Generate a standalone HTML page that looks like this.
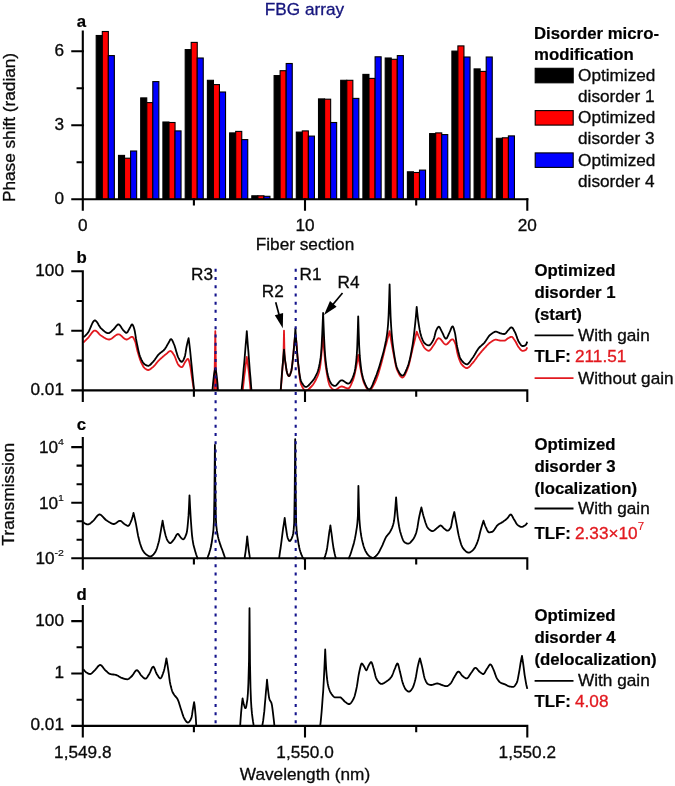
<!DOCTYPE html>
<html lang="en"><head><meta charset="utf-8"><title>FBG array</title>
<style>html,body{margin:0;padding:0;background:#fff}body{width:675px;height:786px;overflow:hidden}svg{display:block}text{font-family:"Liberation Sans", Arial, Helvetica, sans-serif;font-size:16px;fill:#0a0a0a;stroke:#0a0a0a;stroke-width:.3px}.b{font-weight:bold;fill:#000;stroke-width:.2px}.r{fill:#e2191f;stroke:#e2191f}.e{text-anchor:end}.m{text-anchor:middle}.ax{stroke:#000;stroke-width:2.1;fill:none;stroke-linecap:square}.cv{fill:none;stroke-width:1.8;stroke-linejoin:round;stroke-linecap:butt}.sup{font-size:9.8px;stroke-width:.15px}</style></head><body>
<svg width="675" height="786" viewBox="0 0 675 786">
<rect width="675" height="786" fill="#fff"/>
<g id="panel-a">
<rect x="96.2" y="35.5" width="6.05" height="163.8" fill="#000" stroke="#000" stroke-width="1.1"/>
<rect x="102.3" y="31.5" width="6.05" height="167.8" fill="#f00" stroke="#000" stroke-width="1.1"/>
<rect x="108.3" y="55.6" width="6.05" height="143.7" fill="#00f" stroke="#000" stroke-width="1.1"/>
<rect x="118.5" y="155.4" width="6.05" height="43.9" fill="#000" stroke="#000" stroke-width="1.1"/>
<rect x="124.5" y="158.2" width="6.05" height="41.1" fill="#f00" stroke="#000" stroke-width="1.1"/>
<rect x="130.6" y="151.0" width="6.05" height="48.3" fill="#00f" stroke="#000" stroke-width="1.1"/>
<rect x="140.7" y="97.9" width="6.05" height="101.4" fill="#000" stroke="#000" stroke-width="1.1"/>
<rect x="146.8" y="102.6" width="6.05" height="96.7" fill="#f00" stroke="#000" stroke-width="1.1"/>
<rect x="152.8" y="81.6" width="6.05" height="117.7" fill="#00f" stroke="#000" stroke-width="1.1"/>
<rect x="162.9" y="122.0" width="6.05" height="77.3" fill="#000" stroke="#000" stroke-width="1.1"/>
<rect x="169.0" y="122.5" width="6.05" height="76.8" fill="#f00" stroke="#000" stroke-width="1.1"/>
<rect x="175.0" y="130.9" width="6.05" height="68.4" fill="#00f" stroke="#000" stroke-width="1.1"/>
<rect x="185.2" y="49.6" width="6.05" height="149.7" fill="#000" stroke="#000" stroke-width="1.1"/>
<rect x="191.2" y="42.4" width="6.05" height="156.9" fill="#f00" stroke="#000" stroke-width="1.1"/>
<rect x="197.2" y="58.0" width="6.05" height="141.3" fill="#00f" stroke="#000" stroke-width="1.1"/>
<rect x="207.4" y="80.3" width="6.05" height="119.0" fill="#000" stroke="#000" stroke-width="1.1"/>
<rect x="213.4" y="84.6" width="6.05" height="114.7" fill="#f00" stroke="#000" stroke-width="1.1"/>
<rect x="219.5" y="92.0" width="6.05" height="107.3" fill="#00f" stroke="#000" stroke-width="1.1"/>
<rect x="229.6" y="132.9" width="6.05" height="66.4" fill="#000" stroke="#000" stroke-width="1.1"/>
<rect x="235.7" y="131.4" width="6.05" height="67.9" fill="#f00" stroke="#000" stroke-width="1.1"/>
<rect x="241.7" y="139.6" width="6.05" height="59.7" fill="#00f" stroke="#000" stroke-width="1.1"/>
<rect x="251.8" y="195.8" width="6.05" height="3.5" fill="#000" stroke="#000" stroke-width="1.1"/>
<rect x="257.9" y="195.8" width="6.05" height="3.5" fill="#f00" stroke="#000" stroke-width="1.1"/>
<rect x="263.9" y="196.3" width="6.05" height="3.0" fill="#00f" stroke="#000" stroke-width="1.1"/>
<rect x="274.1" y="75.6" width="6.05" height="123.7" fill="#000" stroke="#000" stroke-width="1.1"/>
<rect x="280.1" y="70.7" width="6.05" height="128.6" fill="#f00" stroke="#000" stroke-width="1.1"/>
<rect x="286.2" y="63.5" width="6.05" height="135.8" fill="#00f" stroke="#000" stroke-width="1.1"/>
<rect x="296.3" y="132.1" width="6.05" height="67.2" fill="#000" stroke="#000" stroke-width="1.1"/>
<rect x="302.3" y="130.9" width="6.05" height="68.4" fill="#f00" stroke="#000" stroke-width="1.1"/>
<rect x="308.4" y="136.1" width="6.05" height="63.2" fill="#00f" stroke="#000" stroke-width="1.1"/>
<rect x="318.5" y="98.9" width="6.05" height="100.4" fill="#000" stroke="#000" stroke-width="1.1"/>
<rect x="324.6" y="99.2" width="6.05" height="100.1" fill="#f00" stroke="#000" stroke-width="1.1"/>
<rect x="330.6" y="122.5" width="6.05" height="76.8" fill="#00f" stroke="#000" stroke-width="1.1"/>
<rect x="340.7" y="80.3" width="6.05" height="119.0" fill="#000" stroke="#000" stroke-width="1.1"/>
<rect x="346.8" y="80.3" width="6.05" height="119.0" fill="#f00" stroke="#000" stroke-width="1.1"/>
<rect x="352.8" y="98.4" width="6.05" height="100.9" fill="#00f" stroke="#000" stroke-width="1.1"/>
<rect x="362.9" y="74.4" width="6.05" height="124.9" fill="#000" stroke="#000" stroke-width="1.1"/>
<rect x="369.0" y="78.4" width="6.05" height="120.9" fill="#f00" stroke="#000" stroke-width="1.1"/>
<rect x="375.1" y="56.8" width="6.05" height="142.5" fill="#00f" stroke="#000" stroke-width="1.1"/>
<rect x="385.2" y="58.0" width="6.05" height="141.3" fill="#000" stroke="#000" stroke-width="1.1"/>
<rect x="391.2" y="59.3" width="6.05" height="140.0" fill="#f00" stroke="#000" stroke-width="1.1"/>
<rect x="397.3" y="55.6" width="6.05" height="143.7" fill="#00f" stroke="#000" stroke-width="1.1"/>
<rect x="407.4" y="171.8" width="6.05" height="27.5" fill="#000" stroke="#000" stroke-width="1.1"/>
<rect x="413.4" y="172.5" width="6.05" height="26.8" fill="#f00" stroke="#000" stroke-width="1.1"/>
<rect x="419.5" y="170.1" width="6.05" height="29.2" fill="#00f" stroke="#000" stroke-width="1.1"/>
<rect x="429.6" y="133.6" width="6.05" height="65.7" fill="#000" stroke="#000" stroke-width="1.1"/>
<rect x="435.7" y="132.9" width="6.05" height="66.4" fill="#f00" stroke="#000" stroke-width="1.1"/>
<rect x="441.7" y="134.6" width="6.05" height="64.7" fill="#00f" stroke="#000" stroke-width="1.1"/>
<rect x="451.9" y="51.1" width="6.05" height="148.2" fill="#000" stroke="#000" stroke-width="1.1"/>
<rect x="457.9" y="45.9" width="6.05" height="153.4" fill="#f00" stroke="#000" stroke-width="1.1"/>
<rect x="464.0" y="57.0" width="6.05" height="142.3" fill="#00f" stroke="#000" stroke-width="1.1"/>
<rect x="474.1" y="68.9" width="6.05" height="130.4" fill="#000" stroke="#000" stroke-width="1.1"/>
<rect x="480.1" y="71.4" width="6.05" height="127.9" fill="#f00" stroke="#000" stroke-width="1.1"/>
<rect x="486.2" y="57.0" width="6.05" height="142.3" fill="#00f" stroke="#000" stroke-width="1.1"/>
<rect x="496.3" y="138.3" width="6.05" height="61.0" fill="#000" stroke="#000" stroke-width="1.1"/>
<rect x="502.4" y="137.8" width="6.05" height="61.5" fill="#f00" stroke="#000" stroke-width="1.1"/>
<rect x="508.4" y="135.9" width="6.05" height="63.4" fill="#00f" stroke="#000" stroke-width="1.1"/>
<path class="ax" d="M82.8,31.5 V209.6 M72.3,199.3 H527.3"/>
<path class="ax" d="M72.3,51.2 H82.8 M77.6,88.2 H82.8 M72.3,125.3 H82.8 M77.6,162.3 H82.8 M193.9,199.3 V204.5 M305.0,199.3 V209.8 M416.2,199.3 V204.5 M527.3,199.3 V209.8 "/>
<text class="e" transform="translate(64.0 55.6) scale(1.075 1)">6</text>
<text class="e" transform="translate(64.0 129.7) scale(1.075 1)">3</text>
<text class="e" transform="translate(64.0 203.7) scale(1.075 1)">0</text>
<text class="m" transform="translate(82.8 231.0) scale(1.075 1)">0</text>
<text class="m" transform="translate(305.0 231.0) scale(1.075 1)">10</text>
<text class="m" transform="translate(527.3 231.0) scale(1.075 1)">20</text>
<text class="m" transform="translate(305.0 249.7) scale(1.075 1)">Fiber section</text>
<text class="m" transform="translate(14.8 127.5) rotate(-90) scale(1.075 1)">Phase shift (radian)</text>
<text class="b m" transform="translate(81.5 26.5) scale(1.050 1)">a</text>
<text class="m" style="fill:#15157d;stroke:#15157d" transform="translate(304.5 15.3) scale(1.075 1)">FBG array</text>
<text class="b" transform="translate(534.0 38.5) scale(1.050 1)">Disorder micro-</text>
<text class="b" transform="translate(534.0 59.7) scale(1.050 1)">modification</text>
<rect x="535.2" y="68.3" width="38" height="14.5" fill="#000" stroke="#000" stroke-width="1.1"/>
<text transform="translate(578.0 81.0) scale(1.075 1)">Optimized</text>
<text transform="translate(578.0 102.1) scale(1.075 1)">disorder 1</text>
<rect x="535.2" y="110.6" width="38" height="14.5" fill="#f00" stroke="#000" stroke-width="1.1"/>
<text transform="translate(578.0 123.3) scale(1.075 1)">Optimized</text>
<text transform="translate(578.0 144.4) scale(1.075 1)">disorder 3</text>
<rect x="535.2" y="152.9" width="38" height="14.5" fill="#00f" stroke="#000" stroke-width="1.1"/>
<text transform="translate(578.0 165.6) scale(1.075 1)">Optimized</text>
<text transform="translate(578.0 186.7) scale(1.075 1)">disorder 4</text>
</g>
<g id="panel-b">
<path class="cv" stroke="#e2191f" d="M83.3,342.7 L83.8,342.2 L84.3,341.7 L84.8,341.2 L85.3,340.7 L85.8,340.2 L86.3,339.7 L86.8,339.2 L87.3,338.7 L87.8,338.2 L88.3,337.6 L88.8,337.0 L89.3,336.3 L89.8,335.6 L90.3,334.9 L90.8,334.2 L91.3,333.5 L91.8,332.9 L92.3,332.3 L92.8,331.7 L93.3,331.3 L93.8,330.9 L94.3,330.7 L94.8,330.6 L95.3,330.6 L95.8,330.8 L96.3,331.1 L96.8,331.5 L97.3,331.9 L97.8,332.4 L98.3,333.0 L98.8,333.5 L99.3,334.1 L99.8,334.6 L100.3,335.0 L100.8,335.4 L101.3,335.7 L101.8,336.1 L102.3,336.4 L102.8,336.7 L103.3,337.1 L103.8,337.4 L104.3,337.7 L104.8,338.0 L105.3,338.3 L105.8,338.6 L106.3,338.8 L106.8,339.0 L107.3,339.2 L107.8,339.3 L108.3,339.4 L108.8,339.5 L109.3,339.5 L109.8,339.4 L110.3,339.2 L110.8,339.0 L111.4,338.7 L111.9,338.4 L112.4,338.0 L112.9,337.6 L113.4,337.2 L113.9,336.8 L114.4,336.4 L114.9,336.0 L115.4,335.6 L115.9,335.3 L116.4,334.9 L116.9,334.7 L117.4,334.5 L117.9,334.4 L118.4,334.3 L118.9,334.3 L119.4,334.5 L119.9,334.7 L120.4,335.1 L120.9,335.5 L121.4,335.9 L121.9,336.3 L122.4,336.8 L122.9,337.3 L123.4,337.8 L123.9,338.2 L124.4,338.6 L124.9,339.0 L125.4,339.2 L125.9,339.4 L126.4,339.5 L126.9,339.5 L127.4,339.3 L127.9,339.1 L128.4,338.8 L128.9,338.5 L129.4,338.1 L129.9,337.8 L130.4,337.4 L130.9,337.2 L131.4,336.9 L131.9,336.8 L132.4,336.8 L132.9,337.2 L133.4,337.8 L133.9,338.7 L134.4,339.8 L134.9,340.9 L135.4,342.3 L135.9,344.3 L136.4,346.5 L136.9,348.8 L137.4,350.9 L137.9,352.6 L138.4,354.3 L138.9,356.0 L139.4,357.6 L139.9,359.1 L140.4,360.5 L140.9,361.8 L141.4,362.9 L141.9,363.9 L142.4,364.9 L142.9,365.8 L143.4,366.7 L143.9,367.4 L144.4,367.9 L144.9,368.4 L145.4,368.7 L145.9,369.1 L146.4,369.4 L146.9,369.7 L147.4,369.9 L147.9,370.0 L148.4,370.0 L148.9,369.9 L149.4,369.7 L149.9,369.4 L150.4,369.1 L150.9,368.7 L151.4,368.3 L151.9,367.9 L152.4,367.5 L152.9,367.1 L153.4,366.7 L153.9,366.2 L154.4,365.6 L154.9,365.1 L155.4,364.5 L155.9,363.9 L156.4,363.2 L156.9,362.6 L157.4,362.0 L157.9,361.4 L158.4,360.9 L158.9,360.4 L159.4,359.9 L159.9,359.4 L160.4,358.9 L160.9,358.5 L161.4,358.0 L161.9,357.6 L162.4,357.1 L162.9,356.7 L163.4,356.3 L163.9,355.9 L164.4,355.4 L164.9,355.0 L165.4,354.6 L165.9,354.2 L166.5,353.8 L167.0,353.4 L167.5,352.9 L168.0,352.4 L168.5,351.9 L169.0,351.6 L169.5,351.3 L170.0,351.1 L170.5,351.0 L171.0,351.2 L171.5,351.5 L172.0,352.1 L172.5,352.7 L173.0,353.5 L173.5,354.3 L174.0,355.0 L174.5,355.9 L175.0,357.0 L175.5,358.3 L176.0,359.6 L176.5,361.0 L177.0,362.2 L177.5,363.4 L178.0,364.3 L178.5,365.0 L179.0,365.5 L179.5,366.0 L180.0,366.5 L180.5,366.8 L181.0,367.1 L181.5,367.2 L182.0,367.1 L182.5,366.7 L183.0,366.0 L183.5,365.1 L184.0,364.1 L184.5,363.1 L185.0,362.2 L185.5,361.4 L186.0,360.8 L186.5,360.1 L187.0,359.5 L187.5,359.0 L188.0,358.8 L188.5,359.4 L189.0,360.8 L189.5,362.8 L190.0,365.0 L190.5,367.6 L191.0,370.9 L191.5,374.5 L192.0,378.0 L192.5,381.2 L193.0,384.5 L193.5,387.7 L194.0,391.0 M214.3,391.0 L215.3,331.1 L216.3,391.0 M242.7,391.0 L243.2,386.1 L243.7,381.3 L244.2,376.8 L244.8,372.4 L245.3,368.3 L245.8,364.3 L246.3,360.5 L246.8,356.9 L247.3,360.4 L247.9,364.4 L248.4,368.8 L249.0,373.5 L249.5,378.8 L250.1,384.7 L250.6,391.0 M280.8,391.0 L281.3,384.0 L281.9,376.8 L282.4,369.4 L282.9,362.9 L283.5,355.0 L284.0,330.6 L284.5,354.2 L285.0,360.4 L285.6,364.2 L286.1,367.8 L286.6,370.9 L287.1,373.0 L287.6,374.3 L288.1,375.4 L288.7,376.1 L289.2,376.2 L289.7,375.6 L290.2,374.5 L290.7,373.0 L291.3,371.2 L291.8,368.3 L292.3,364.5 L292.8,360.0 L293.3,355.2 L293.8,348.6 L294.4,342.1 L294.9,338.2 L295.4,336.0 L295.9,338.3 L296.4,341.8 L296.9,347.7 L297.4,355.0 L297.9,361.5 L298.4,366.2 L298.9,370.8 L299.4,375.1 L299.9,378.8 L300.4,381.8 L300.9,384.0 L301.4,385.2 L301.9,386.2 L302.4,387.2 L302.9,388.0 L303.4,388.8 L303.9,389.4 L304.4,389.9 L304.9,390.2 L305.4,390.4 L305.9,390.5 L306.4,390.4 L306.9,390.3 L307.4,390.0 L307.9,389.7 L308.4,389.4 L308.9,388.9 L309.4,388.5 L309.9,388.0 L310.4,387.5 L310.9,387.0 L311.4,386.5 L311.9,386.0 L312.4,385.4 L312.9,384.8 L313.4,384.1 L313.9,383.3 L314.4,382.5 L314.9,381.6 L315.4,380.7 L315.9,379.8 L316.4,378.7 L316.9,377.7 L317.4,376.6 L317.9,375.4 L318.4,374.0 L318.9,372.4 L319.4,370.5 L319.9,368.2 L320.4,364.9 L320.9,360.4 L321.4,354.8 L321.9,348.5 L322.4,341.5 L322.9,334.0 L323.4,340.8 L323.9,347.3 L324.4,353.4 L324.9,358.9 L325.4,363.6 L325.9,367.5 L326.4,370.7 L326.9,373.8 L327.4,376.7 L327.9,379.3 L328.4,381.6 L329.0,383.6 L329.5,385.1 L330.0,386.2 L330.5,386.9 L331.0,387.5 L331.5,388.1 L332.0,388.6 L332.5,389.0 L333.0,389.4 L333.5,389.7 L334.0,389.9 L334.5,390.0 L335.0,390.0 L335.5,389.9 L336.0,389.7 L336.5,389.4 L337.0,389.1 L337.5,388.8 L338.0,388.4 L338.5,388.0 L339.0,387.6 L339.5,387.3 L340.0,387.0 L340.5,386.7 L341.1,386.6 L341.6,386.5 L342.1,386.5 L342.6,386.6 L343.1,386.8 L343.6,386.9 L344.1,387.1 L344.6,387.4 L345.1,387.6 L345.6,387.8 L346.1,388.0 L346.6,388.2 L347.1,388.4 L347.6,388.5 L348.1,388.5 L348.6,388.4 L349.1,388.0 L349.6,387.4 L350.1,386.7 L350.6,385.7 L351.1,384.6 L351.6,383.4 L352.1,382.2 L352.7,380.9 L353.2,379.6 L353.7,378.0 L354.2,376.2 L354.7,374.1 L355.2,371.9 L355.7,369.5 L356.2,367.1 L356.7,364.4 L357.2,361.5 L357.7,358.3 L358.2,355.0 L358.7,358.3 L359.2,361.4 L359.7,364.4 L360.2,367.1 L360.7,369.7 L361.2,372.2 L361.7,374.7 L362.3,377.0 L362.8,379.1 L363.3,381.0 L363.8,382.5 L364.3,383.6 L364.8,384.7 L365.3,385.7 L365.8,386.7 L366.3,387.6 L366.8,388.4 L367.3,389.1 L367.8,389.6 L368.3,390.0 L368.8,390.2 L369.3,390.3 L369.8,390.1 L370.4,389.8 L370.9,389.4 L371.4,388.8 L371.9,388.1 L372.4,387.3 L372.9,386.4 L373.4,385.4 L373.9,384.5 L374.4,383.5 L374.9,382.5 L375.4,381.5 L375.9,380.4 L376.4,379.2 L376.9,377.8 L377.4,376.4 L378.0,374.8 L378.5,373.2 L379.0,371.5 L379.5,369.8 L380.0,368.0 L380.5,366.3 L381.0,364.5 L381.5,362.7 L382.0,360.8 L382.5,358.8 L383.0,356.8 L383.5,354.7 L384.0,352.6 L384.5,350.5 L385.0,348.4 L385.5,346.4 L386.1,344.4 L386.6,342.5 L387.1,340.5 L387.6,338.6 L388.1,336.7 L388.6,334.8 L389.1,333.0 L389.6,331.1 L390.1,334.3 L390.6,337.4 L391.1,340.4 L391.6,343.3 L392.1,346.1 L392.6,348.9 L393.1,351.5 L393.6,354.1 L394.1,356.8 L394.6,359.4 L395.1,362.1 L395.6,364.5 L396.1,366.7 L396.6,368.6 L397.1,370.0 L397.6,371.1 L398.1,372.2 L398.6,373.2 L399.1,374.2 L399.6,375.0 L400.1,375.8 L400.6,376.4 L401.1,376.9 L401.6,377.3 L402.1,377.5 L402.6,377.5 L403.1,377.2 L403.7,376.8 L404.2,376.1 L404.7,375.3 L405.2,374.3 L405.7,373.2 L406.2,372.1 L406.7,370.9 L407.2,369.6 L407.7,368.4 L408.2,367.0 L408.7,365.4 L409.2,363.6 L409.7,361.5 L410.2,359.4 L410.7,357.2 L411.2,354.9 L411.7,352.7 L412.2,350.5 L412.7,348.4 L413.2,346.4 L413.7,344.3 L414.2,342.2 L414.7,340.2 L415.2,338.1 L415.7,336.0 L416.2,333.8 L416.7,331.7 L417.2,332.9 L417.7,334.2 L418.2,335.3 L418.7,336.5 L419.2,337.6 L419.7,338.7 L420.2,339.8 L420.7,340.8 L421.2,341.8 L421.7,342.8 L422.2,343.8 L422.7,344.9 L423.2,345.8 L423.7,346.7 L424.2,347.5 L424.7,348.1 L425.2,348.6 L425.7,349.1 L426.2,349.5 L426.7,349.9 L427.2,350.3 L427.7,350.6 L428.2,350.7 L428.7,350.8 L429.2,350.7 L429.7,350.4 L430.2,349.9 L430.7,349.4 L431.2,348.7 L431.7,348.0 L432.2,347.2 L432.7,346.5 L433.2,345.8 L433.7,345.1 L434.2,344.4 L434.7,343.5 L435.2,342.7 L435.7,341.8 L436.2,340.9 L436.7,340.0 L437.2,339.3 L437.7,338.8 L438.2,338.4 L438.7,338.2 L439.2,338.3 L439.7,338.5 L440.2,338.9 L440.7,339.3 L441.2,339.9 L441.7,340.5 L442.2,341.2 L442.7,341.8 L443.2,342.5 L443.7,343.1 L444.2,343.6 L444.7,344.0 L445.2,344.3 L445.7,344.5 L446.2,344.5 L446.7,344.3 L447.2,344.0 L447.7,343.5 L448.2,343.0 L448.7,342.5 L449.2,341.9 L449.7,341.3 L450.2,340.7 L450.7,340.2 L451.2,339.8 L451.7,339.5 L452.2,339.3 L452.7,339.3 L453.2,339.7 L453.7,340.3 L454.2,341.2 L454.7,342.2 L455.2,343.4 L455.7,344.8 L456.2,347.1 L456.7,349.7 L457.2,352.2 L457.7,354.4 L458.2,356.1 L458.7,357.6 L459.2,359.1 L459.7,360.5 L460.2,361.7 L460.7,362.8 L461.2,363.7 L461.7,364.4 L462.2,365.0 L462.7,365.5 L463.2,366.0 L463.7,366.5 L464.2,366.9 L464.7,367.3 L465.2,367.6 L465.7,367.9 L466.2,368.0 L466.7,368.1 L467.2,368.1 L467.7,367.9 L468.2,367.6 L468.7,367.3 L469.2,366.8 L469.7,366.3 L470.2,365.8 L470.7,365.2 L471.2,364.6 L471.7,363.9 L472.3,363.3 L472.8,362.8 L473.3,362.2 L473.8,361.6 L474.3,361.0 L474.8,360.3 L475.3,359.6 L475.8,358.9 L476.3,358.2 L476.8,357.5 L477.3,356.8 L477.8,356.1 L478.3,355.4 L478.8,354.8 L479.3,354.2 L479.8,353.6 L480.3,353.0 L480.8,352.4 L481.3,351.8 L481.8,351.2 L482.3,350.7 L482.8,350.1 L483.3,349.5 L483.8,349.0 L484.3,348.4 L484.8,347.9 L485.3,347.4 L485.8,346.8 L486.3,346.2 L486.8,345.7 L487.3,345.2 L487.8,344.6 L488.3,344.1 L488.8,343.7 L489.3,343.2 L489.8,342.8 L490.3,342.5 L490.8,342.1 L491.3,341.8 L491.8,341.4 L492.3,341.1 L492.8,340.8 L493.3,340.5 L493.8,340.2 L494.3,340.0 L494.8,339.8 L495.3,339.7 L495.8,339.7 L496.3,339.7 L496.8,339.8 L497.3,339.9 L497.8,340.0 L498.3,340.2 L498.8,340.3 L499.3,340.4 L499.8,340.5 L500.3,340.6 L500.8,340.6 L501.3,340.6 L501.8,340.6 L502.3,340.6 L502.8,340.6 L503.3,340.6 L503.8,340.6 L504.3,340.6 L504.8,340.6 L505.3,340.4 L505.8,340.0 L506.3,339.7 L506.8,339.2 L507.3,338.8 L507.8,338.4 L508.3,338.2 L508.8,337.9 L509.3,337.6 L509.8,337.3 L510.3,337.1 L510.8,336.9 L511.3,336.8 L511.8,336.8 L512.3,337.1 L512.8,337.6 L513.3,338.2 L513.8,339.0 L514.3,339.7 L514.8,340.4 L515.3,341.2 L515.8,342.0 L516.3,343.0 L516.8,344.0 L517.3,345.0 L517.8,345.9 L518.3,346.7 L518.8,347.4 L519.3,348.0 L519.8,348.7 L520.3,349.3 L520.8,349.8 L521.3,350.3 L521.8,350.6 L522.3,350.8 L522.8,350.8 L523.3,350.8 L523.8,350.7 L524.3,350.6 L524.8,350.4 L525.3,350.2 L525.8,349.9 L526.3,349.2 L526.8,348.3 L527.3,347.3"/>
<path class="cv" stroke="#000" d="M83.3,337.3 L83.8,336.9 L84.3,336.5 L84.8,336.1 L85.3,335.7 L85.8,335.2 L86.3,334.6 L86.8,334.1 L87.3,333.5 L87.8,332.9 L88.3,332.2 L88.8,331.3 L89.3,330.3 L89.8,329.2 L90.3,328.0 L90.8,326.8 L91.3,325.6 L91.8,324.5 L92.3,323.4 L92.8,322.4 L93.3,321.6 L93.8,321.0 L94.3,320.6 L94.8,320.4 L95.3,320.5 L95.8,320.8 L96.3,321.3 L96.8,321.9 L97.3,322.6 L97.8,323.4 L98.3,324.3 L98.8,325.2 L99.3,326.0 L99.8,326.8 L100.3,327.6 L100.8,328.2 L101.4,328.6 L101.9,329.1 L102.4,329.6 L102.9,330.0 L103.4,330.5 L103.9,330.9 L104.4,331.4 L104.9,331.8 L105.4,332.1 L105.9,332.4 L106.4,332.7 L106.9,332.9 L107.4,333.1 L107.9,333.2 L108.4,333.2 L108.9,333.1 L109.4,332.9 L109.9,332.6 L110.4,332.3 L110.9,331.8 L111.4,331.4 L111.9,330.9 L112.4,330.4 L112.9,329.9 L113.4,329.5 L113.9,329.0 L114.4,328.5 L114.9,327.8 L115.4,327.2 L115.9,326.5 L116.4,325.8 L116.9,325.3 L117.4,324.8 L117.9,324.5 L118.4,324.4 L118.9,324.5 L119.4,324.9 L119.9,325.4 L120.4,326.0 L120.9,326.8 L121.4,327.6 L121.9,328.4 L122.4,329.1 L122.9,329.8 L123.4,330.3 L123.9,330.9 L124.4,331.4 L124.9,332.0 L125.4,332.4 L125.9,332.8 L126.4,332.9 L126.9,332.7 L127.4,332.2 L127.9,331.4 L128.4,330.5 L128.9,329.6 L129.4,328.7 L129.9,327.8 L130.4,326.9 L130.9,325.8 L131.4,325.0 L131.9,324.5 L132.4,324.5 L132.9,325.2 L133.4,326.3 L133.9,327.8 L134.4,329.5 L134.9,331.8 L135.4,334.9 L135.9,338.2 L136.5,341.4 L137.0,343.9 L137.5,346.3 L138.0,348.7 L138.5,350.9 L139.0,352.9 L139.5,354.8 L140.0,356.3 L140.5,357.5 L141.0,358.7 L141.5,359.8 L142.0,360.8 L142.5,361.7 L143.0,362.5 L143.5,363.2 L144.0,363.8 L144.5,364.2 L145.0,364.6 L145.5,364.9 L146.0,365.1 L146.5,365.4 L147.0,365.6 L147.5,365.7 L148.0,365.8 L148.5,365.8 L149.0,365.6 L149.5,365.3 L150.0,365.0 L150.5,364.5 L151.0,364.0 L151.5,363.5 L152.0,362.9 L152.5,362.4 L153.0,361.9 L153.5,361.3 L154.0,360.7 L154.5,360.1 L155.0,359.4 L155.5,358.6 L156.0,357.9 L156.5,357.2 L157.0,356.5 L157.5,355.8 L158.0,355.2 L158.5,354.6 L159.0,354.1 L159.5,353.6 L160.0,353.2 L160.5,352.8 L161.0,352.4 L161.5,352.1 L162.0,351.7 L162.5,351.3 L163.0,350.9 L163.5,350.5 L164.0,350.0 L164.5,349.4 L165.0,348.8 L165.5,348.0 L166.0,347.2 L166.5,346.4 L167.0,345.5 L167.5,344.6 L168.0,343.8 L168.5,342.9 L169.0,342.1 L169.5,341.1 L170.0,340.1 L170.5,339.3 L171.1,339.1 L171.6,339.4 L172.1,340.1 L172.6,341.0 L173.1,342.2 L173.6,343.4 L174.1,344.5 L174.6,345.8 L175.1,347.4 L175.6,349.1 L176.1,350.9 L176.6,352.6 L177.1,354.3 L177.6,355.9 L178.1,357.1 L178.6,358.1 L179.1,359.0 L179.6,359.9 L180.1,360.7 L180.6,361.3 L181.1,361.7 L181.6,361.9 L182.1,361.7 L182.6,361.3 L183.1,360.5 L183.6,359.6 L184.1,358.4 L184.6,357.2 L185.1,355.4 L185.6,352.7 L186.1,349.4 L186.6,346.5 L187.1,344.2 L187.6,342.0 L188.1,340.0 L188.6,338.2 L189.1,341.9 L189.6,346.0 L190.1,350.4 L190.6,355.3 L191.1,360.7 L191.7,366.3 L192.2,371.6 L192.7,376.7 L193.2,381.6 L193.7,386.4 L194.2,391.0 M212.4,391.0 L213.0,384.1 L213.6,378.4 L214.1,374.1 L214.7,370.7 L215.3,368.3 L215.8,370.3 L216.4,373.5 L216.9,377.6 L217.5,383.6 L218.0,391.0 M241.5,391.0 L242.0,385.8 L242.6,380.5 L243.1,374.9 L243.6,369.2 L244.2,363.3 L244.7,357.2 L245.2,351.0 L245.7,344.5 L246.3,337.9 L246.8,331.1 L247.3,338.1 L247.8,344.9 L248.4,351.7 L248.9,358.5 L249.4,365.1 L249.9,371.7 L250.5,378.2 L251.0,384.7 L251.5,391.0 M280.6,391.0 L281.2,383.5 L281.7,376.2 L282.3,369.2 L282.9,362.4 L283.4,355.9 L284.0,349.6 L284.5,354.9 L285.0,359.6 L285.6,363.7 L286.1,367.3 L286.6,370.5 L287.1,372.7 L287.6,374.1 L288.1,375.2 L288.7,375.9 L289.2,376.0 L289.7,375.4 L290.2,374.3 L290.7,372.8 L291.3,371.0 L291.8,368.1 L292.3,364.1 L292.8,359.6 L293.3,354.8 L293.8,349.3 L294.4,343.0 L294.9,336.0 L295.4,328.4 L295.9,336.1 L296.4,343.3 L296.9,349.9 L297.4,355.8 L297.9,360.8 L298.4,365.1 L298.9,369.2 L299.4,373.0 L299.9,376.3 L300.4,379.0 L300.9,380.8 L301.4,381.9 L301.9,382.9 L302.5,383.8 L303.0,384.6 L303.5,385.3 L304.0,385.9 L304.5,386.4 L305.0,386.7 L305.5,386.9 L306.0,386.9 L306.5,386.8 L307.0,386.6 L307.5,386.3 L308.0,385.9 L308.5,385.5 L309.0,385.0 L309.5,384.4 L310.0,383.9 L310.5,383.3 L311.0,382.7 L311.5,382.2 L312.0,381.6 L312.5,381.0 L313.0,380.4 L313.5,379.7 L314.0,379.0 L314.5,378.2 L315.0,377.3 L315.5,376.4 L316.0,375.4 L316.6,374.2 L317.1,373.0 L317.6,371.7 L318.1,370.2 L318.6,368.4 L319.1,366.3 L319.6,363.9 L320.1,361.1 L320.6,357.9 L321.1,353.6 L321.6,346.3 L322.1,336.5 L322.6,325.1 L323.1,313.0 L323.6,325.9 L324.1,337.8 L324.6,347.8 L325.1,355.2 L325.6,360.4 L326.1,364.7 L326.6,368.5 L327.1,371.6 L327.6,374.1 L328.1,376.0 L328.6,377.7 L329.1,379.2 L329.6,380.5 L330.1,381.7 L330.6,382.8 L331.1,383.6 L331.6,384.3 L332.1,384.7 L332.6,385.1 L333.1,385.4 L333.6,385.6 L334.1,385.8 L334.6,385.9 L335.1,385.9 L335.6,385.7 L336.1,385.4 L336.6,385.0 L337.1,384.4 L337.6,383.9 L338.1,383.2 L338.6,382.6 L339.1,382.0 L339.6,381.4 L340.1,381.0 L340.6,380.6 L341.2,380.4 L341.7,380.3 L342.2,380.4 L342.7,380.5 L343.2,380.8 L343.7,381.1 L344.2,381.4 L344.7,381.8 L345.2,382.1 L345.7,382.5 L346.2,382.9 L346.7,383.1 L347.2,383.4 L347.7,383.5 L348.2,383.6 L348.7,383.5 L349.2,383.3 L349.7,382.9 L350.2,382.3 L350.7,381.6 L351.2,380.7 L351.7,379.8 L352.2,378.7 L352.7,377.5 L353.2,376.2 L353.7,374.9 L354.2,373.4 L354.7,371.5 L355.2,368.9 L355.7,365.5 L356.2,361.3 L356.7,356.2 L357.2,347.8 L357.7,333.5 L358.2,316.4 L358.7,332.3 L359.2,346.2 L359.7,355.2 L360.2,360.6 L360.7,365.2 L361.2,369.1 L361.7,372.4 L362.3,375.1 L362.8,377.3 L363.3,379.1 L363.8,380.5 L364.3,381.9 L364.8,383.2 L365.3,384.4 L365.8,385.4 L366.3,386.4 L366.8,387.3 L367.3,388.0 L367.8,388.6 L368.3,389.0 L368.8,389.2 L369.3,389.3 L369.8,389.1 L370.4,388.6 L370.9,388.0 L371.4,387.2 L371.9,386.2 L372.4,385.1 L372.9,383.9 L373.4,382.6 L373.9,381.3 L374.4,380.1 L374.9,378.8 L375.4,377.6 L375.9,376.4 L376.4,375.1 L376.9,373.7 L377.4,372.2 L378.0,370.7 L378.5,369.1 L379.0,367.5 L379.5,365.9 L380.0,364.2 L380.5,362.5 L381.0,360.7 L381.5,359.0 L382.0,357.3 L382.5,355.6 L383.0,353.8 L383.5,351.9 L384.0,349.9 L384.5,347.8 L385.0,345.5 L385.5,343.0 L386.1,340.2 L386.6,337.2 L387.1,333.8 L387.6,329.5 L388.1,324.0 L388.6,315.4 L389.1,301.3 L389.6,284.4 L390.1,301.8 L390.6,316.4 L391.1,325.8 L391.6,332.7 L392.1,338.4 L392.6,343.1 L393.1,347.1 L393.6,350.7 L394.1,354.0 L394.6,357.2 L395.1,360.0 L395.6,362.6 L396.1,364.9 L396.6,366.7 L397.1,368.1 L397.6,369.3 L398.1,370.3 L398.6,371.4 L399.1,372.3 L399.6,373.2 L400.1,373.9 L400.6,374.5 L401.1,375.0 L401.6,375.4 L402.1,375.6 L402.6,375.6 L403.1,375.3 L403.7,374.9 L404.2,374.2 L404.7,373.4 L405.2,372.4 L405.7,371.4 L406.2,370.2 L406.7,369.0 L407.2,367.7 L407.7,366.5 L408.2,365.1 L408.7,363.5 L409.2,361.7 L409.7,359.8 L410.2,357.6 L410.7,355.2 L411.2,352.7 L411.7,350.0 L412.2,347.2 L412.7,344.3 L413.2,340.9 L413.7,337.0 L414.2,332.8 L414.7,328.2 L415.2,323.5 L415.7,318.5 L416.2,312.9 L416.7,306.9 L417.2,312.0 L417.7,316.7 L418.2,320.6 L418.7,324.0 L419.2,327.1 L419.7,330.0 L420.2,332.5 L420.7,334.6 L421.2,336.2 L421.7,337.6 L422.2,338.9 L422.7,340.1 L423.2,341.1 L423.7,342.0 L424.2,342.8 L424.7,343.3 L425.2,343.7 L425.7,344.1 L426.2,344.5 L426.7,344.8 L427.2,345.0 L427.7,345.2 L428.2,345.4 L428.7,345.4 L429.2,345.3 L429.7,345.1 L430.2,344.7 L430.7,344.1 L431.2,343.5 L431.7,342.8 L432.2,342.0 L432.7,341.1 L433.2,340.2 L433.7,339.2 L434.2,337.7 L434.7,335.8 L435.2,333.7 L435.7,331.8 L436.2,330.4 L436.7,329.4 L437.2,328.4 L437.7,327.6 L438.2,327.0 L438.7,326.7 L439.2,326.9 L439.7,327.4 L440.2,328.3 L440.7,329.3 L441.2,330.4 L441.7,331.4 L442.2,332.3 L442.7,333.3 L443.2,334.4 L443.7,335.6 L444.2,336.7 L444.7,337.6 L445.2,338.3 L445.7,338.7 L446.2,338.6 L446.7,338.2 L447.2,337.4 L447.7,336.4 L448.2,335.3 L448.7,334.2 L449.2,333.1 L449.7,332.0 L450.2,330.9 L450.7,329.6 L451.2,328.3 L451.7,327.2 L452.2,326.5 L452.7,326.3 L453.2,327.0 L453.7,328.3 L454.2,330.0 L454.7,331.9 L455.2,334.1 L455.7,337.3 L456.2,340.8 L456.7,344.2 L457.2,347.0 L457.7,349.2 L458.2,351.3 L458.7,353.2 L459.2,355.1 L459.7,356.7 L460.2,358.0 L460.7,359.1 L461.2,359.9 L461.7,360.5 L462.2,361.1 L462.7,361.7 L463.2,362.3 L463.7,362.7 L464.2,363.2 L464.7,363.5 L465.2,363.8 L465.7,364.1 L466.2,364.2 L466.7,364.3 L467.2,364.3 L467.7,364.1 L468.2,363.7 L468.7,363.2 L469.2,362.7 L469.7,362.0 L470.2,361.3 L470.7,360.5 L471.2,359.8 L471.7,359.0 L472.3,358.3 L472.8,357.6 L473.3,356.9 L473.8,356.1 L474.3,355.3 L474.8,354.4 L475.3,353.6 L475.8,352.7 L476.3,351.8 L476.8,351.0 L477.3,350.2 L477.8,349.4 L478.3,348.7 L478.8,348.1 L479.3,347.5 L479.8,347.0 L480.3,346.5 L480.8,346.1 L481.3,345.6 L481.8,345.2 L482.3,344.7 L482.8,344.3 L483.3,343.8 L483.8,343.3 L484.3,342.8 L484.8,342.2 L485.3,341.5 L485.8,340.8 L486.3,340.0 L486.8,339.3 L487.3,338.5 L487.8,337.7 L488.3,337.0 L488.8,336.3 L489.3,335.7 L489.8,335.2 L490.3,334.8 L490.8,334.4 L491.3,334.0 L491.8,333.6 L492.3,333.2 L492.8,332.9 L493.3,332.5 L493.8,332.3 L494.3,332.0 L494.8,331.9 L495.3,331.7 L495.8,331.7 L496.3,331.7 L496.8,331.8 L497.3,332.0 L497.8,332.2 L498.3,332.5 L498.8,332.7 L499.3,332.9 L499.8,333.1 L500.3,333.3 L500.8,333.4 L501.3,333.5 L501.8,333.7 L502.3,333.8 L502.8,333.9 L503.3,333.9 L503.8,334.0 L504.3,334.0 L504.8,333.9 L505.3,333.6 L505.8,333.2 L506.3,332.6 L506.8,331.9 L507.3,331.3 L507.8,330.6 L508.3,330.1 L508.8,329.6 L509.3,329.0 L509.8,328.4 L510.3,327.9 L510.8,327.5 L511.3,327.3 L511.8,327.4 L512.3,327.7 L512.8,328.3 L513.3,329.1 L513.8,330.0 L514.3,331.0 L514.8,331.9 L515.3,332.9 L515.8,334.1 L516.3,335.5 L516.8,336.9 L517.3,338.4 L517.8,339.7 L518.3,340.9 L518.8,341.7 L519.3,342.6 L519.8,343.4 L520.3,344.1 L520.8,344.8 L521.3,345.4 L521.8,345.8 L522.3,346.0 L522.8,346.0 L523.3,346.0 L523.8,345.9 L524.3,345.8 L524.8,345.6 L525.3,345.4 L525.8,345.0 L526.3,344.2 L526.8,342.9 L527.3,341.6"/>
</g>
<g id="panel-c"><path class="cv" stroke="#000" d="M83.4,522.1 L83.9,522.6 L84.4,523.0 L84.9,523.4 L85.4,523.7 L85.9,523.9 L86.4,524.1 L86.9,524.3 L87.4,524.4 L87.9,524.4 L88.4,524.4 L88.9,524.2 L89.4,524.0 L89.9,523.7 L90.4,523.3 L90.9,522.9 L91.4,522.4 L91.9,522.0 L92.4,521.5 L92.9,521.1 L93.4,520.6 L93.9,520.1 L94.4,519.5 L94.9,518.9 L95.4,518.2 L95.9,517.5 L96.4,516.9 L96.9,516.3 L97.4,515.7 L97.9,515.3 L98.4,514.9 L98.9,514.6 L99.4,514.5 L99.9,514.5 L100.4,514.7 L100.9,515.0 L101.4,515.3 L101.9,515.8 L102.4,516.3 L102.9,516.8 L103.4,517.4 L103.9,518.0 L104.4,518.5 L104.9,519.0 L105.4,519.5 L105.9,520.0 L106.4,520.3 L106.9,520.6 L107.4,521.0 L107.9,521.3 L108.5,521.6 L109.0,522.0 L109.5,522.3 L110.0,522.6 L110.5,522.9 L111.0,523.2 L111.5,523.4 L112.0,523.6 L112.5,523.8 L113.0,523.9 L113.5,524.0 L114.0,524.0 L114.5,523.9 L115.0,523.7 L115.5,523.5 L116.0,523.1 L116.5,522.8 L117.0,522.4 L117.5,522.0 L118.0,521.6 L118.5,521.3 L119.0,521.0 L119.5,520.9 L120.0,520.8 L120.5,520.9 L121.0,521.1 L121.5,521.4 L122.0,521.9 L122.5,522.3 L123.0,522.8 L123.5,523.3 L124.0,523.7 L124.5,524.0 L125.0,524.4 L125.5,524.7 L126.0,525.0 L126.5,525.3 L127.0,525.6 L127.5,525.8 L128.0,525.9 L128.5,525.8 L129.0,525.4 L129.5,524.6 L130.0,523.6 L130.5,522.5 L131.0,521.3 L131.5,520.1 L132.0,518.6 L132.5,516.9 L133.0,515.0 L133.5,512.9 L134.0,515.0 L134.5,517.1 L135.0,519.4 L135.5,521.7 L136.0,524.1 L136.5,526.8 L137.0,529.7 L137.5,532.5 L138.0,535.2 L138.5,537.6 L139.0,539.5 L139.5,541.4 L140.0,543.2 L140.5,544.8 L141.0,546.3 L141.5,547.7 L142.0,548.9 L142.5,549.9 L143.0,550.7 L143.5,551.5 L144.0,552.2 L144.5,552.8 L145.0,553.4 L145.5,553.9 L146.0,554.3 L146.5,554.7 L147.0,555.0 L147.5,555.4 L148.1,555.7 L148.6,556.0 L149.1,556.3 L149.6,556.4 L150.1,556.5 L150.6,556.5 L151.1,556.3 L151.6,556.1 L152.1,555.7 L152.6,555.3 L153.1,554.8 L153.6,554.3 L154.1,553.7 L154.6,553.0 L155.1,552.4 L155.6,551.5 L156.1,550.4 L156.6,549.1 L157.1,547.7 L157.6,546.1 L158.1,544.3 L158.6,542.5 L159.1,540.5 L159.6,538.0 L160.1,535.2 L160.6,532.3 L161.1,529.4 L161.6,526.5 L162.1,523.6 L162.6,520.6 L163.1,523.6 L163.6,526.4 L164.1,529.0 L164.6,531.2 L165.1,533.4 L165.6,535.4 L166.2,537.3 L166.7,538.8 L167.2,540.0 L167.7,540.8 L168.2,541.5 L168.7,542.1 L169.2,542.7 L169.7,543.0 L170.2,543.1 L170.7,543.0 L171.2,542.7 L171.7,542.2 L172.2,541.6 L172.8,540.9 L173.3,540.2 L173.8,539.6 L174.3,538.9 L174.8,538.1 L175.3,537.2 L175.8,536.2 L176.3,535.3 L176.8,534.6 L177.3,534.1 L177.8,533.9 L178.3,534.1 L178.8,534.7 L179.3,535.5 L179.9,536.3 L180.4,537.0 L180.9,537.6 L181.4,538.1 L181.9,538.6 L182.4,539.0 L182.9,539.3 L183.4,539.3 L183.9,539.0 L184.4,538.4 L184.9,537.5 L185.4,536.4 L185.9,535.1 L186.5,533.6 L187.0,531.3 L187.5,527.3 L188.0,522.0 L188.5,515.9 L189.0,506.9 L189.5,495.4 L190.0,505.5 L190.5,514.4 L191.0,522.0 L191.5,529.1 L192.0,535.1 L192.5,539.2 L193.0,542.3 L193.5,545.0 L194.1,547.2 L194.6,549.1 L195.1,550.9 L195.6,552.6 L196.1,554.2 L196.6,555.6 L197.1,556.9 L197.6,558.1 L198.1,559.0 M206.7,559.0 L207.2,558.2 L207.7,557.1 L208.2,555.8 L208.8,554.4 L209.3,552.8 L209.8,551.1 L210.3,549.3 L210.8,547.2 L211.3,544.8 L211.8,542.0 L212.3,538.7 L212.8,535.0 L213.4,530.0 L213.9,521.9 L214.4,497.2 L214.9,444.8 L215.4,492.4 L215.9,519.2 L216.4,526.5 L216.9,530.7 L217.4,533.8 L217.9,536.3 L218.4,538.4 L218.9,540.2 L219.4,541.8 L219.9,543.4 L220.4,544.9 L220.9,546.4 L221.4,547.7 L221.9,549.0 L222.4,550.3 L222.9,551.7 L223.4,553.1 L223.9,554.6 L224.4,556.0 L224.9,557.5 L225.4,559.0 M244.5,559.0 L245.0,555.5 L245.6,551.6 L246.1,547.1 L246.7,542.0 L247.2,536.4 L247.7,541.4 L248.2,545.9 L248.7,549.8 L249.2,553.3 L249.7,556.4 L250.2,559.0 M279.0,559.0 L279.5,555.4 L280.0,551.7 L280.6,548.0 L281.1,544.2 L281.6,540.3 L282.1,536.3 L282.6,532.3 L283.1,528.5 L283.7,524.8 L284.2,521.3 L284.7,517.9 L285.2,522.2 L285.7,526.0 L286.2,529.5 L286.7,532.8 L287.2,535.9 L287.7,538.0 L288.2,539.2 L288.7,540.2 L289.2,540.8 L289.7,541.0 L290.2,540.8 L290.7,540.2 L291.2,539.5 L291.7,538.4 L292.2,537.2 L292.7,535.8 L293.2,533.4 L293.7,529.4 L294.2,523.1 L294.7,493.2 L295.2,439.1 L295.7,493.8 L296.2,523.6 L296.7,531.2 L297.2,535.8 L297.8,539.2 L298.3,542.4 L298.8,545.3 L299.3,547.7 L299.8,549.7 L300.3,551.5 L300.8,552.9 L301.3,554.4 L301.9,555.7 L302.4,556.8 L302.9,557.8 L303.4,558.5 L303.9,559.0 M323.5,559.0 L324.0,558.5 L324.6,557.6 L325.1,556.1 L325.6,554.4 L326.2,552.4 L326.7,550.3 L327.2,547.7 L327.7,544.0 L328.3,539.9 L328.8,535.8 L329.3,532.2 L329.9,528.7 L330.4,525.3 L330.9,529.3 L331.5,533.3 L332.0,537.2 L332.5,541.3 L333.1,545.4 L333.6,548.8 L334.2,551.5 L334.7,553.9 L335.2,556.0 L335.8,557.8 L336.3,559.0 M348.3,559.0 L348.8,558.1 L349.3,557.0 L349.8,555.9 L350.3,554.6 L350.8,553.2 L351.3,551.7 L351.8,550.1 L352.3,548.4 L352.8,546.7 L353.4,544.9 L353.9,543.0 L354.4,540.9 L354.9,538.7 L355.4,536.1 L355.9,533.3 L356.4,530.2 L356.9,527.1 L357.4,522.8 L357.9,515.5 L358.4,485.8 L358.9,505.9 L359.4,519.3 L359.9,525.5 L360.4,530.3 L360.9,534.0 L361.4,536.9 L361.9,539.4 L362.4,541.6 L362.9,543.6 L363.4,545.4 L363.9,547.0 L364.4,548.4 L364.9,549.7 L365.4,550.8 L365.9,551.8 L366.4,552.6 L366.9,553.4 L367.4,554.2 L368.0,554.9 L368.5,555.4 L369.0,555.9 L369.5,556.3 L370.0,556.7 L370.5,557.0 L371.0,557.2 L371.5,557.5 L372.0,557.7 L372.5,557.8 L373.0,557.8 L373.5,557.7 L374.0,557.5 L374.5,557.2 L375.0,556.8 L375.5,556.4 L376.0,555.9 L376.5,555.4 L377.0,554.8 L377.5,554.3 L378.0,553.6 L378.5,552.9 L379.0,552.1 L379.5,551.2 L380.0,550.2 L380.5,549.2 L381.0,548.2 L381.5,547.2 L382.0,546.1 L382.5,545.1 L383.0,543.9 L383.5,542.7 L384.0,541.5 L384.5,540.3 L385.0,539.1 L385.5,538.1 L386.0,537.1 L386.5,536.4 L387.1,535.7 L387.6,535.0 L388.1,534.4 L388.6,533.9 L389.1,533.2 L389.6,532.6 L390.1,531.8 L390.6,530.9 L391.1,530.0 L391.6,528.9 L392.1,527.8 L392.6,526.4 L393.1,524.8 L393.6,522.9 L394.1,520.5 L394.6,516.4 L395.1,510.9 L395.6,504.4 L396.1,497.3 L396.6,504.2 L397.1,510.6 L397.6,516.0 L398.1,520.1 L398.6,523.5 L399.1,526.5 L399.6,529.1 L400.1,531.4 L400.7,533.3 L401.2,535.0 L401.7,536.5 L402.2,538.0 L402.7,539.3 L403.2,540.4 L403.7,541.3 L404.2,541.9 L404.7,542.3 L405.2,542.7 L405.7,543.0 L406.2,543.2 L406.7,543.4 L407.2,543.6 L407.7,543.7 L408.2,543.7 L408.8,543.6 L409.3,543.3 L409.8,543.0 L410.3,542.6 L410.8,542.0 L411.3,541.5 L411.8,540.9 L412.3,540.3 L412.8,539.7 L413.3,539.0 L413.8,538.2 L414.3,537.3 L414.8,536.3 L415.3,535.2 L415.8,533.9 L416.3,532.5 L416.8,530.4 L417.4,527.7 L417.9,524.6 L418.4,521.4 L418.9,518.5 L419.4,516.0 L419.9,513.7 L420.4,511.5 L420.9,509.4 L421.4,507.4 L421.9,509.6 L422.4,511.7 L422.9,513.8 L423.4,515.7 L423.9,517.4 L424.4,519.1 L424.9,520.8 L425.4,522.5 L426.0,524.0 L426.5,525.4 L427.0,526.6 L427.5,527.5 L428.0,528.1 L428.5,528.7 L429.0,529.2 L429.5,529.6 L430.0,530.1 L430.5,530.4 L431.0,530.7 L431.5,530.9 L432.0,531.1 L432.5,531.1 L433.0,531.0 L433.5,530.8 L434.1,530.5 L434.6,530.1 L435.1,529.7 L435.6,529.3 L436.1,528.8 L436.6,528.4 L437.1,527.9 L437.6,527.6 L438.1,527.2 L438.6,526.7 L439.1,526.3 L439.6,525.9 L440.1,525.6 L440.6,525.5 L441.1,525.6 L441.6,526.0 L442.2,526.5 L442.7,527.1 L443.2,527.7 L443.7,528.2 L444.2,528.6 L444.7,529.0 L445.2,529.4 L445.7,529.8 L446.2,530.2 L446.7,530.5 L447.2,530.6 L447.7,530.7 L448.2,530.6 L448.7,530.3 L449.2,529.8 L449.7,529.1 L450.3,528.4 L450.8,527.5 L451.3,525.5 L451.8,522.8 L452.3,520.0 L452.8,517.7 L453.3,515.7 L453.8,513.8 L454.3,512.0 L454.8,514.7 L455.3,517.4 L455.8,520.1 L456.3,522.7 L456.8,525.4 L457.3,528.2 L457.8,531.0 L458.3,533.6 L458.8,535.9 L459.3,537.9 L459.8,539.7 L460.3,541.5 L460.8,543.2 L461.3,544.8 L461.9,546.1 L462.4,547.2 L462.9,548.1 L463.4,548.7 L463.9,549.3 L464.4,549.9 L464.9,550.4 L465.4,550.9 L465.9,551.4 L466.4,551.7 L466.9,552.1 L467.4,552.3 L467.9,552.5 L468.4,552.6 L468.9,552.6 L469.4,552.5 L469.9,552.3 L470.4,552.1 L470.9,551.8 L471.4,551.4 L471.9,551.0 L472.4,550.6 L472.9,550.1 L473.4,549.6 L473.9,549.0 L474.4,548.4 L474.9,547.6 L475.4,546.6 L475.9,545.5 L476.5,544.4 L477.0,543.1 L477.5,541.8 L478.0,540.4 L478.5,538.7 L479.0,536.8 L479.5,534.7 L480.0,532.7 L480.5,530.8 L481.0,529.0 L481.5,527.3 L482.0,525.6 L482.5,523.9 L483.0,522.3 L483.5,520.7 L484.0,522.3 L484.5,523.9 L485.0,525.3 L485.5,526.5 L486.0,527.6 L486.5,528.7 L487.0,529.8 L487.5,530.8 L488.0,531.7 L488.5,532.2 L489.0,532.4 L489.5,532.4 L490.0,532.3 L490.5,532.2 L491.1,532.1 L491.6,531.9 L492.1,531.8 L492.6,531.6 L493.1,531.2 L493.6,530.7 L494.1,530.0 L494.6,529.3 L495.1,528.5 L495.6,527.7 L496.1,527.0 L496.6,526.2 L497.1,525.6 L497.6,525.1 L498.1,524.7 L498.6,524.3 L499.1,524.0 L499.6,523.7 L500.1,523.5 L500.6,523.2 L501.1,522.9 L501.6,522.7 L502.1,522.3 L502.6,522.0 L503.1,521.7 L503.6,521.3 L504.1,520.9 L504.6,520.5 L505.1,520.2 L505.7,519.7 L506.2,519.3 L506.7,518.9 L507.2,518.4 L507.7,517.9 L508.2,517.2 L508.7,516.5 L509.2,515.8 L509.7,515.1 L510.2,514.7 L510.7,514.5 L511.2,514.7 L511.7,515.3 L512.2,516.1 L512.7,517.0 L513.2,518.0 L513.7,518.9 L514.2,519.7 L514.7,520.5 L515.2,521.4 L515.7,522.3 L516.2,523.2 L516.7,523.9 L517.2,524.6 L517.7,525.0 L518.2,525.4 L518.7,525.7 L519.2,526.1 L519.7,526.4 L520.3,526.6 L520.8,526.8 L521.3,526.9 L521.8,526.9 L522.3,526.8 L522.8,526.7 L523.3,526.4 L523.8,526.1 L524.3,525.8 L524.8,525.5 L525.3,525.1 L525.8,524.7 L526.3,524.1 L526.8,523.4 L527.3,522.7"/></g>
<g id="panel-d"><path class="cv" stroke="#000" d="M83.4,669.2 L83.9,669.9 L84.4,670.6 L84.9,671.2 L85.4,671.7 L85.9,672.2 L86.4,672.5 L86.9,672.8 L87.4,673.1 L87.9,673.4 L88.4,673.6 L88.9,673.8 L89.4,673.9 L89.9,674.0 L90.4,674.0 L90.9,673.8 L91.4,673.5 L91.9,673.1 L92.4,672.6 L92.9,672.1 L93.4,671.6 L93.9,671.1 L94.4,670.6 L94.9,670.1 L95.4,669.6 L95.9,669.0 L96.4,668.4 L96.9,667.8 L97.4,667.1 L97.9,666.5 L98.4,666.0 L98.9,665.6 L99.4,665.2 L99.9,665.0 L100.4,665.0 L100.9,665.2 L101.4,665.5 L101.9,666.0 L102.4,666.6 L102.9,667.2 L103.4,667.9 L103.9,668.6 L104.4,669.2 L104.9,669.8 L105.4,670.3 L105.9,670.8 L106.4,671.2 L106.9,671.7 L107.4,672.2 L107.9,672.6 L108.4,673.1 L108.9,673.4 L109.4,673.7 L109.9,673.9 L110.4,674.1 L110.9,674.2 L111.4,674.3 L111.9,674.3 L112.4,674.4 L112.9,674.5 L113.4,674.5 L113.9,674.6 L114.4,674.6 L114.9,674.7 L115.4,674.8 L115.9,674.9 L116.4,675.1 L116.9,675.3 L117.4,675.5 L117.9,675.8 L118.4,676.1 L118.9,676.4 L119.4,676.7 L119.9,677.0 L120.4,677.3 L120.9,677.6 L121.4,677.8 L121.9,677.9 L122.4,678.1 L122.9,678.3 L123.4,678.5 L123.9,678.6 L124.4,678.8 L124.9,678.9 L125.4,679.1 L125.9,679.2 L126.4,679.2 L126.9,679.3 L127.4,679.3 L127.9,679.2 L128.4,679.0 L128.9,678.7 L129.4,678.3 L129.9,677.9 L130.4,677.4 L130.9,677.0 L131.4,676.5 L131.9,676.0 L132.4,675.5 L132.9,674.8 L133.4,674.1 L133.9,673.3 L134.4,672.5 L134.9,671.8 L135.4,671.1 L135.9,670.6 L136.4,670.3 L136.9,670.2 L137.4,670.4 L137.9,670.8 L138.4,671.4 L138.9,672.1 L139.4,672.8 L139.9,673.6 L140.4,674.4 L140.9,675.1 L141.4,675.7 L141.9,676.2 L142.4,676.7 L142.9,677.2 L143.4,677.6 L143.9,678.1 L144.4,678.4 L144.9,678.6 L145.4,678.7 L145.9,678.6 L146.4,678.2 L146.9,677.6 L147.4,676.9 L147.9,676.1 L148.4,675.3 L148.9,674.5 L149.4,673.7 L149.9,672.7 L150.4,671.6 L150.9,670.3 L151.4,669.1 L151.9,668.1 L152.4,667.3 L152.9,666.8 L153.4,666.7 L153.9,667.3 L154.4,668.2 L154.9,669.4 L155.4,670.7 L155.9,672.1 L156.4,673.3 L156.9,674.2 L157.4,675.0 L157.9,675.8 L158.4,676.6 L158.9,677.4 L159.4,677.9 L159.9,678.3 L160.4,678.4 L160.9,678.1 L161.4,677.4 L161.9,676.4 L162.4,675.1 L162.9,673.8 L163.4,672.4 L163.9,670.8 L164.4,668.9 L164.9,666.6 L165.4,664.1 L165.9,661.3 L166.4,658.3 L166.9,661.3 L167.4,664.4 L167.9,667.7 L168.4,671.0 L168.9,674.7 L169.4,678.6 L169.9,682.0 L170.4,684.5 L170.9,686.6 L171.4,688.5 L171.9,690.2 L172.4,691.6 L172.9,692.8 L173.5,693.8 L174.0,694.6 L174.5,695.3 L175.0,695.9 L175.5,696.5 L176.0,697.0 L176.5,697.6 L177.0,698.3 L177.5,699.1 L178.0,700.1 L178.5,701.3 L179.0,702.8 L179.5,704.5 L180.0,706.1 L180.5,707.7 L181.0,709.2 L181.5,710.7 L182.0,712.3 L182.5,713.9 L183.0,715.4 L183.5,716.8 L184.0,717.9 L184.5,718.8 L185.0,719.7 L185.5,720.4 L186.0,721.2 L186.5,721.8 L187.0,722.2 L187.6,722.5 L188.1,722.5 L188.6,722.3 L189.1,721.9 L189.6,721.3 L190.1,720.6 L190.6,719.7 L191.1,718.7 L191.6,717.3 L192.1,714.4 L192.6,710.9 L193.1,707.8 L193.6,705.0 L194.1,702.2 L194.7,705.9 L195.2,711.1 L195.8,717.7 L196.3,726.5 M240.1,726.5 L240.6,719.3 L241.1,712.8 L241.6,707.3 L242.1,702.4 L242.6,698.4 L243.1,701.3 L243.7,703.7 L244.2,705.5 L244.7,707.1 L245.3,708.2 L245.8,708.0 L246.3,706.2 L246.8,703.1 L247.4,699.3 L247.9,693.2 L248.4,682.9 L249.0,661.0 L249.5,608.1 L250.0,662.9 L250.5,687.8 L251.0,701.0 L251.5,708.7 L252.0,713.9 L252.5,717.9 L253.0,721.4 L253.5,724.4 L254.0,726.5 M262.1,726.5 L262.6,723.9 L263.2,720.4 L263.7,716.2 L264.3,711.4 L264.8,705.1 L265.4,698.5 L265.9,692.2 L266.5,686.0 L267.0,679.7 L267.5,684.8 L268.0,689.4 L268.5,693.6 L269.0,697.3 L269.5,699.4 L270.0,700.5 L270.5,701.2 L271.0,702.0 L271.5,703.2 L272.0,705.4 L272.5,709.1 L273.0,713.2 L273.5,717.3 L274.0,721.7 L274.5,726.5 M320.1,726.5 L320.6,722.6 L321.1,717.7 L321.6,712.0 L322.1,705.6 L322.6,698.6 L323.2,691.0 L323.7,682.2 L324.2,672.2 L324.7,661.2 L325.2,649.5 L325.7,660.6 L326.2,669.5 L326.7,675.4 L327.2,679.9 L327.7,683.4 L328.2,685.8 L328.7,687.7 L329.2,689.3 L329.7,690.6 L330.2,691.8 L330.7,692.8 L331.2,693.6 L331.7,694.3 L332.2,694.9 L332.7,695.6 L333.2,696.1 L333.7,696.6 L334.2,697.0 L334.7,697.3 L335.2,697.4 L335.7,697.4 L336.2,697.4 L336.7,697.4 L337.2,697.4 L337.7,697.4 L338.2,697.4 L338.7,697.4 L339.2,697.4 L339.7,697.4 L340.2,697.4 L340.7,697.5 L341.2,697.8 L341.7,698.3 L342.2,698.8 L342.7,699.3 L343.2,699.9 L343.7,700.5 L344.2,701.0 L344.7,701.5 L345.2,701.9 L345.7,702.2 L346.2,702.6 L346.7,703.0 L347.2,703.4 L347.7,703.7 L348.2,703.9 L348.7,704.1 L349.3,704.1 L349.8,703.9 L350.3,703.6 L350.8,703.1 L351.3,702.5 L351.8,701.8 L352.3,701.0 L352.8,700.1 L353.3,699.2 L353.8,698.3 L354.3,697.0 L354.8,695.4 L355.3,693.5 L355.8,691.5 L356.3,689.3 L356.8,686.9 L357.3,683.8 L357.8,680.5 L358.3,677.2 L358.8,674.2 L359.3,671.8 L359.8,669.5 L360.3,667.2 L360.8,665.2 L361.3,663.9 L361.8,663.5 L362.3,663.8 L362.8,664.4 L363.3,665.2 L363.8,666.0 L364.3,666.8 L364.8,667.8 L365.3,668.9 L365.8,669.8 L366.3,670.2 L366.8,669.8 L367.3,668.8 L367.8,667.5 L368.3,666.2 L368.8,665.3 L369.3,664.4 L369.8,663.5 L370.3,662.8 L370.8,662.2 L371.3,662.1 L371.8,662.8 L372.3,664.1 L372.8,665.8 L373.3,667.6 L373.8,669.2 L374.3,671.2 L374.8,673.3 L375.3,675.4 L375.8,677.2 L376.3,678.5 L376.8,679.4 L377.3,680.2 L377.8,680.9 L378.3,681.6 L378.8,682.3 L379.3,682.8 L379.8,683.2 L380.3,683.6 L380.8,683.8 L381.3,683.9 L381.8,683.9 L382.3,683.8 L382.8,683.6 L383.3,683.4 L383.8,683.2 L384.3,682.9 L384.8,682.5 L385.3,682.2 L385.8,681.9 L386.3,681.5 L386.8,681.2 L387.3,680.8 L387.8,680.5 L388.3,680.1 L388.8,679.7 L389.3,679.3 L389.8,678.8 L390.3,678.2 L390.8,677.7 L391.3,677.0 L391.8,676.3 L392.3,675.2 L392.8,674.0 L393.3,672.7 L393.8,671.3 L394.3,670.0 L394.8,668.9 L395.3,667.6 L395.8,666.2 L396.4,665.0 L396.9,664.0 L397.4,663.5 L397.9,663.8 L398.4,665.1 L398.9,667.1 L399.4,669.4 L399.9,671.6 L400.4,673.5 L400.9,675.6 L401.4,677.8 L401.9,679.9 L402.4,681.8 L402.9,683.4 L403.4,684.8 L403.9,686.0 L404.4,687.2 L404.9,688.2 L405.4,689.1 L405.9,689.7 L406.4,690.2 L406.9,690.6 L407.4,691.0 L407.9,691.4 L408.4,691.6 L408.9,691.7 L409.4,691.6 L409.9,691.4 L410.4,691.0 L410.9,690.4 L411.4,689.8 L411.9,689.1 L412.4,688.3 L412.9,687.4 L413.4,686.2 L413.9,684.7 L414.4,683.1 L414.9,681.3 L415.4,679.3 L415.9,677.0 L416.4,674.1 L416.9,671.1 L417.4,668.3 L417.9,665.9 L418.4,663.8 L418.9,661.8 L419.4,659.9 L419.9,658.3 L420.4,660.1 L420.9,662.0 L421.4,663.9 L421.9,665.9 L422.4,668.1 L422.9,670.5 L423.4,673.0 L423.9,675.4 L424.4,677.5 L424.9,679.0 L425.4,680.2 L425.9,681.3 L426.4,682.3 L426.9,683.1 L427.4,683.7 L427.9,684.0 L428.4,684.3 L428.9,684.5 L429.4,684.7 L429.9,684.8 L430.4,684.9 L430.9,685.0 L431.4,685.0 L431.9,684.9 L432.4,684.8 L432.9,684.7 L433.4,684.5 L433.9,684.4 L434.4,684.2 L434.9,684.0 L435.4,683.8 L435.9,683.7 L436.4,683.6 L436.9,683.5 L437.4,683.5 L437.9,683.6 L438.4,683.7 L438.9,683.8 L439.4,684.0 L439.9,684.2 L440.4,684.4 L440.9,684.6 L441.4,684.8 L441.9,685.0 L442.4,685.1 L442.9,685.3 L443.4,685.5 L443.9,685.7 L444.4,685.8 L444.9,686.0 L445.4,686.1 L445.9,686.2 L446.4,686.2 L446.9,686.1 L447.4,686.0 L447.9,685.7 L448.4,685.4 L448.9,685.0 L449.4,684.6 L449.9,684.1 L450.4,683.7 L450.9,683.1 L451.4,682.4 L451.9,681.5 L452.4,680.6 L452.9,679.6 L453.4,678.6 L453.9,677.7 L454.4,676.9 L454.9,676.1 L455.4,675.3 L455.9,674.4 L456.4,673.6 L456.9,672.8 L457.4,672.2 L457.9,671.8 L458.4,671.6 L458.9,671.7 L459.4,672.0 L459.9,672.6 L460.4,673.3 L460.9,674.1 L461.4,674.8 L461.9,675.5 L462.4,675.9 L462.9,676.3 L463.4,676.7 L463.9,677.1 L464.4,677.5 L464.9,677.8 L465.4,678.1 L465.9,678.3 L466.4,678.4 L466.9,678.4 L467.4,678.2 L467.9,677.7 L468.4,677.1 L468.9,676.4 L469.4,675.5 L469.9,674.7 L470.4,673.9 L470.9,673.2 L471.5,672.5 L472.0,671.8 L472.5,671.0 L473.0,670.2 L473.5,669.4 L474.0,668.8 L474.5,668.2 L475.0,667.9 L475.5,667.8 L476.0,668.0 L476.5,668.3 L477.0,668.8 L477.5,669.4 L478.0,670.1 L478.5,670.7 L479.0,671.3 L479.5,671.7 L480.0,672.1 L480.5,672.5 L481.0,672.9 L481.5,673.3 L482.0,673.6 L482.5,673.9 L483.0,674.0 L483.5,674.0 L484.0,673.6 L484.5,673.0 L485.0,672.2 L485.5,671.3 L486.0,670.4 L486.5,669.5 L487.0,668.7 L487.5,668.0 L488.0,667.2 L488.5,666.4 L489.0,665.6 L489.5,664.9 L490.0,664.5 L490.5,664.4 L491.0,664.7 L491.5,665.4 L492.0,666.3 L492.5,667.4 L493.0,668.5 L493.5,669.6 L494.0,670.8 L494.5,672.1 L495.0,673.6 L495.5,675.0 L496.0,676.4 L496.5,677.6 L497.0,678.5 L497.5,679.3 L498.0,680.0 L498.5,680.7 L499.0,681.3 L499.5,681.9 L500.0,682.3 L500.5,682.6 L501.0,682.9 L501.5,683.2 L502.0,683.4 L502.5,683.5 L503.0,683.7 L503.5,683.9 L504.0,684.0 L504.5,684.2 L505.0,684.4 L505.5,684.6 L506.0,684.8 L506.5,685.1 L507.0,685.4 L507.5,685.7 L508.0,686.0 L508.5,686.2 L509.0,686.3 L509.5,686.5 L510.0,686.6 L510.5,686.6 L511.0,686.7 L511.5,686.8 L512.0,686.9 L512.5,686.9 L513.0,686.9 L513.5,686.8 L514.0,686.5 L514.5,686.1 L515.0,685.5 L515.5,684.8 L516.0,684.1 L516.5,683.2 L517.0,682.2 L517.5,680.4 L518.0,678.1 L518.5,675.4 L519.0,672.6 L519.5,669.8 L520.0,666.7 L520.5,663.5 L521.0,660.6 L521.5,658.1 L522.0,655.8 L522.5,659.5 L523.1,663.2 L523.6,666.9 L524.1,670.8 L524.6,674.8 L525.2,678.4 L525.7,681.4 L526.2,684.2 L526.8,686.7 L527.3,688.9"/></g>
<path d="M215.6,268.8 V724 M295.7,268.8 V724" fill="none" stroke="#14148c" stroke-width="2.1" stroke-dasharray="3 5.21"/>
<path class="ax" d="M82.8,271.2 V400.9 M72.3,390.4 H527.3 M72.3,271.2 H82.8 M77.6,301.0 H82.8 M72.3,330.8 H82.8 M77.6,360.6 H82.8 M193.9,390.4 V395.6 M305.0,390.4 V400.9 M416.2,390.4 V395.6 M527.3,390.4 V400.9 "/>
<path class="ax" d="M82.8,438.0 V568.8 M72.3,558.3 H527.3 M72.3,447.1 H82.8 M77.6,465.6 H82.8 M77.6,484.2 H82.8 M72.3,502.7 H82.8 M77.6,521.2 H82.8 M77.6,539.8 H82.8 M193.9,558.3 V563.5 M305.0,558.3 V568.8 M416.2,558.3 V563.5 M527.3,558.3 V568.8 "/>
<path class="ax" d="M82.8,606.0 V736.4 M72.3,725.9 H527.3 M72.3,621.1 H82.8 M77.6,647.3 H82.8 M72.3,673.5 H82.8 M77.6,699.7 H82.8 M193.9,725.9 V731.1 M305.0,725.9 V736.4 M416.2,725.9 V731.1 M527.3,725.9 V736.4 "/>
<text class="e" transform="translate(64.0 275.6) scale(1.075 1)">100</text>
<text class="e" transform="translate(64.0 335.2) scale(1.075 1)">1</text>
<text class="e" transform="translate(64.0 394.8) scale(1.075 1)">0.01</text>
<text class="e" transform="translate(64.0 625.5) scale(1.075 1)">100</text>
<text class="e" transform="translate(64.0 677.9) scale(1.075 1)">1</text>
<text class="e" transform="translate(64.0 730.3) scale(1.075 1)">0.01</text>
<text class="e" transform="translate(63.9 453.2) scale(1.075 1)">10<tspan class="sup" dy="-8">4</tspan></text>
<text class="e" transform="translate(63.9 508.8) scale(1.075 1)">10<tspan class="sup" dy="-8">1</tspan></text>
<text class="e" transform="translate(63.9 564.4) scale(1.075 1)">10<tspan class="sup" dy="-8">-2</tspan></text>
<text class="m" transform="translate(82.8 758.0) scale(1.075 1)">1,549.8</text>
<text class="m" transform="translate(305.0 758.0) scale(1.075 1)">1,550.0</text>
<text class="m" transform="translate(527.3 758.0) scale(1.075 1)">1,550.2</text>
<text class="m" transform="translate(305.0 780.0) scale(1.075 1)">Wavelength (nm)</text>
<text class="m" transform="translate(14.4 494.2) rotate(-90) scale(1.090 1)">Transmission</text>
<text class="b m" transform="translate(81.7 262.8) scale(1.050 1)">b</text>
<text class="b m" transform="translate(81.5 430.0) scale(1.050 1)">c</text>
<text class="b m" transform="translate(81.5 600.0) scale(1.050 1)">d</text>
<text transform="translate(191.0 280.4) scale(1.075 1)">R3</text>
<text transform="translate(261.8 296.9) scale(1.075 1)">R2</text>
<text transform="translate(299.6 280.4) scale(1.075 1)">R1</text>
<text transform="translate(337.6 287.8) scale(1.075 1)">R4</text>
<path d="M275.7,302.2 L279.2,315.2" stroke="#000" stroke-width="1.7" fill="none"/>
<path d="M282.8,328.2 L274.8,315.3 L283.1,313.1 Z" fill="#000"/>
<path d="M342.5,293.0 L332.7,304.7" stroke="#000" stroke-width="1.7" fill="none"/>
<path d="M324.0,315.0 L330.0,301.1 L336.6,306.7 Z" fill="#000"/>
<text class="b" transform="translate(534.4 276.3) scale(1.050 1)">Optimized</text>
<text class="b" transform="translate(534.4 298.2) scale(1.050 1)">disorder 1</text>
<text class="b" transform="translate(534.4 319.6) scale(1.050 1)">(start)</text>
<path d="M534.6,335.3 H573.5" stroke="#000" stroke-width="1.8"/>
<text transform="translate(578.0 341.0) scale(1.075 1)">With gain</text>
<text class="b" transform="translate(534.4 362.2) scale(1.050 1)">TLF:</text>
<text class="r" transform="translate(575.0 362.2) scale(1.075 1)">211.51</text>
<path d="M534.6,378.2 H573.5" stroke="#e2191f" stroke-width="1.8"/>
<text transform="translate(578.0 383.7) scale(1.075 1)">Without gain</text>
<text class="b" transform="translate(534.4 449.8) scale(1.050 1)">Optimized</text>
<text class="b" transform="translate(534.4 471.9) scale(1.050 1)">disorder 3</text>
<text class="b" transform="translate(534.4 494.1) scale(1.050 1)">(localization)</text>
<path d="M534.6,508.5 H573.5" stroke="#000" stroke-width="1.8"/>
<text transform="translate(578.0 514.3) scale(1.075 1)">With gain</text>
<text class="b" transform="translate(534.4 539.0) scale(1.050 1)">TLF:</text>
<text class="r" transform="translate(575.0 539.0) scale(1.075 1)">2.33×10<tspan class="sup" style="font-size:10.8px" dy="-8.6">7</tspan></text>
<text class="b" transform="translate(534.4 621.3) scale(1.050 1)">Optimized</text>
<text class="b" transform="translate(534.4 643.4) scale(1.050 1)">disorder 4</text>
<text class="b" transform="translate(534.4 665.1) scale(1.050 1)">(delocalization)</text>
<path d="M534.6,680.9 H573.5" stroke="#000" stroke-width="1.8"/>
<text transform="translate(578.0 686.1) scale(1.075 1)">With gain</text>
<text class="b" transform="translate(534.4 707.1) scale(1.050 1)">TLF:</text>
<text class="r" transform="translate(575.0 707.1) scale(1.075 1)">4.08</text>
</svg></body></html>
